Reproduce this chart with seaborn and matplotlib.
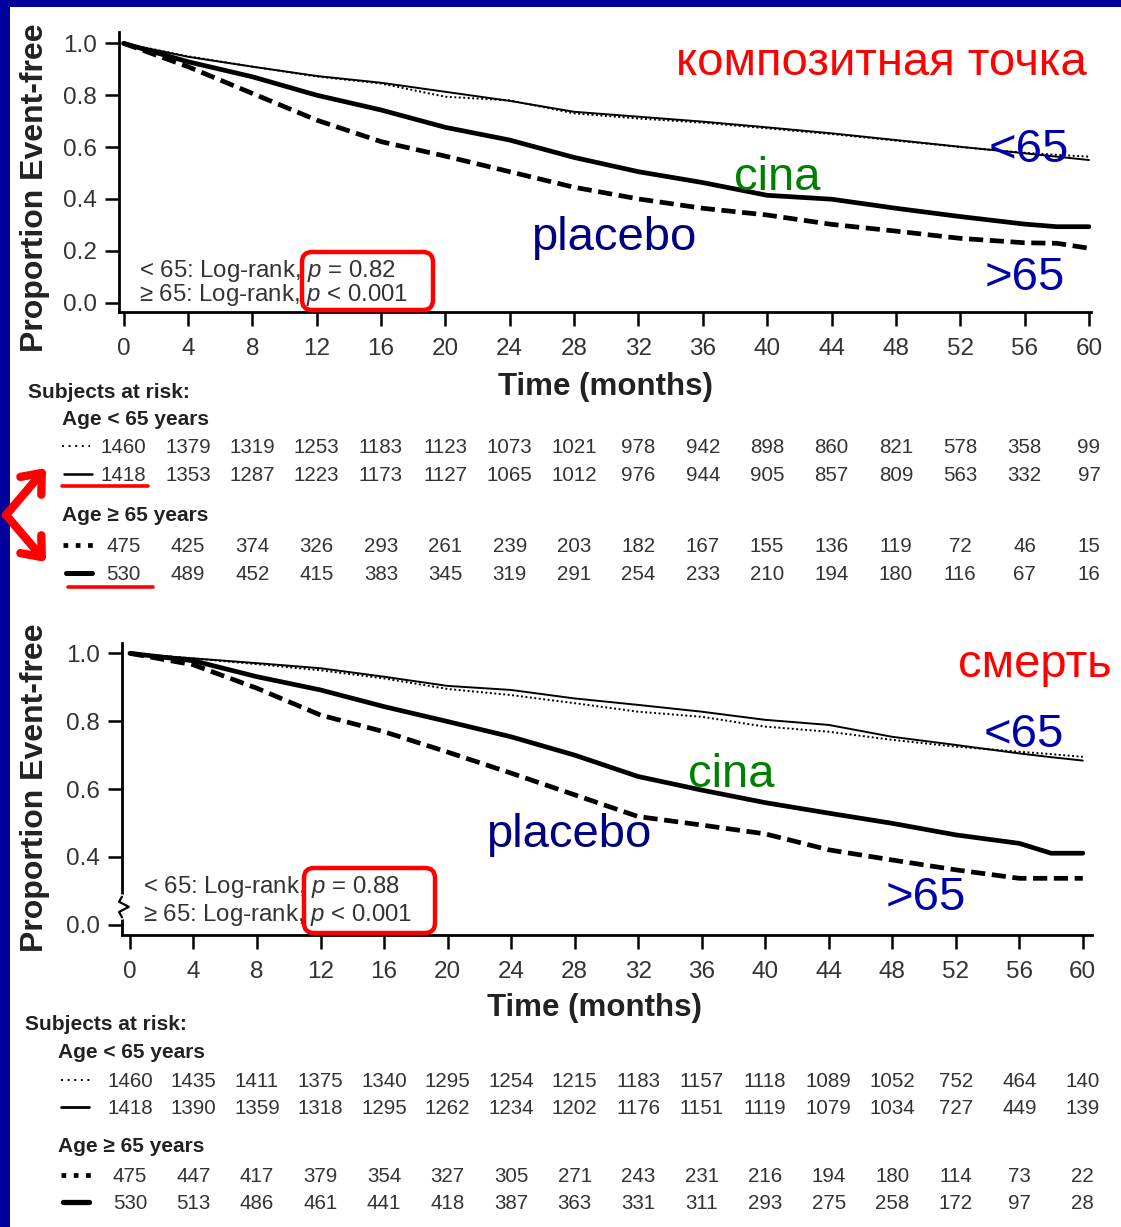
import matplotlib
matplotlib.use("Agg")
import matplotlib.pyplot as plt
import matplotlib.transforms as mtransforms
from matplotlib.patches import FancyBboxPatch, Rectangle, FancyArrowPatch
from matplotlib.lines import Line2D
import seaborn as sns
import pandas as pd

# ---------------- data ----------------
months = [0, 4, 8, 12, 16, 20, 24, 28, 32, 36, 40, 44, 48, 52, 56, 58, 60]

# composite endpoint (top panel)
top_lt65_placebo = [1.0, 0.950, 0.910, 0.872, 0.845, 0.794, 0.780, 0.730, 0.710, 0.694, 0.672, 0.650, 0.625, 0.600, 0.578, 0.570, 0.563]
top_lt65_cina    = [1.0, 0.948, 0.910, 0.874, 0.848, 0.813, 0.778, 0.736, 0.717, 0.698, 0.676, 0.653, 0.627, 0.601, 0.576, 0.563, 0.550]
top_ge65_placebo = [1.0, 0.910, 0.807, 0.704, 0.621, 0.565, 0.505, 0.445, 0.400, 0.364, 0.338, 0.302, 0.276, 0.248, 0.231, 0.229, 0.210]
top_ge65_cina    = [1.0, 0.929, 0.871, 0.800, 0.743, 0.676, 0.627, 0.560, 0.505, 0.463, 0.414, 0.399, 0.364, 0.332, 0.303, 0.293, 0.293]

# death (bottom panel)
bot_lt65_placebo = [1.0, 0.985, 0.968, 0.950, 0.926, 0.895, 0.877, 0.853, 0.828, 0.813, 0.784, 0.769, 0.745, 0.725, 0.710, 0.703, 0.695]
bot_lt65_cina    = [1.0, 0.985, 0.971, 0.956, 0.931, 0.904, 0.892, 0.867, 0.848, 0.828, 0.804, 0.789, 0.754, 0.730, 0.705, 0.694, 0.684]
bot_ge65_placebo = [1.0, 0.966, 0.897, 0.818, 0.769, 0.709, 0.647, 0.583, 0.519, 0.494, 0.468, 0.421, 0.391, 0.362, 0.337, 0.337, 0.337]
bot_ge65_cina    = [1.0, 0.978, 0.931, 0.892, 0.843, 0.799, 0.754, 0.700, 0.637, 0.597, 0.560, 0.529, 0.499, 0.465, 0.440, 0.411, 0.411]

risk_months = [0, 4, 8, 12, 16, 20, 24, 28, 32, 36, 40, 44, 48, 52, 56, 60]
top_risk_lt65_placebo = [1460, 1379, 1319, 1253, 1183, 1123, 1073, 1021, 978, 942, 898, 860, 821, 578, 358, 99]
top_risk_lt65_cina    = [1418, 1353, 1287, 1223, 1173, 1127, 1065, 1012, 976, 944, 905, 857, 809, 563, 332, 97]
top_risk_ge65_placebo = [475, 425, 374, 326, 293, 261, 239, 203, 182, 167, 155, 136, 119, 72, 46, 15]
top_risk_ge65_cina    = [530, 489, 452, 415, 383, 345, 319, 291, 254, 233, 210, 194, 180, 116, 67, 16]
bot_risk_lt65_placebo = [1460, 1435, 1411, 1375, 1340, 1295, 1254, 1215, 1183, 1157, 1118, 1089, 1052, 752, 464, 140]
bot_risk_lt65_cina    = [1418, 1390, 1359, 1318, 1295, 1262, 1234, 1202, 1176, 1151, 1119, 1079, 1034, 727, 449, 139]
bot_risk_ge65_placebo = [475, 447, 417, 379, 354, 327, 305, 271, 243, 231, 216, 194, 180, 114, 73, 22]
bot_risk_ge65_cina    = [530, 513, 486, 461, 441, 418, 387, 363, 331, 311, 293, 275, 258, 172, 97, 28]

x_ticks = list(range(0, 61, 4))
top_y_ticks = [0.0, 0.2, 0.4, 0.6, 0.8, 1.0]
top_y_labels = ["0.0", "0.2", "0.4", "0.6", "0.8", "1.0"]
bot_y_ticks = [0.2, 0.4, 0.6, 0.8, 1.0]          # broken axis: lowest tick shown as 0.0
bot_y_labels = ["0.0", "0.4", "0.6", "0.8", "1.0"]

# ---------------- style ----------------
sns.set_style("ticks")
plt.rcParams["font.family"] = ["Liberation Sans", "DejaVu Sans"]
plt.rcParams["mathtext.fontset"] = "custom"
plt.rcParams["mathtext.it"] = "Liberation Sans:italic"
plt.rcParams["mathtext.rm"] = "Liberation Sans"

W, H = 1121, 1227
fig = plt.figure(figsize=(W / 100, H / 100), dpi=100)
fig.patch.set_facecolor("#00009C")
PX = mtransforms.Affine2D().scale(1, -1).translate(0, H).scale(1 / 100) + fig.dpi_scale_trans
fig.add_artist(Rectangle((10, 7), W, H, transform=PX, facecolor="white", edgecolor="none", zorder=-10))

TXT = "#333333"
RED = "#FF0000"
BLUE = "#0000AA"
NAVY = "#000080"
GREEN = "#008000"


def T(x, y, s, **kw):
    return fig.text(x, y, s, transform=PX, **kw)


def setup_axes(ax, xlim, ylim, yticks, ylabels):
    ax.set_xlim(*xlim)
    ax.set_ylim(*ylim)
    ax.set_facecolor("none")
    for s in ["top", "right"]:
        ax.spines[s].set_visible(False)
    for s in ["left", "bottom"]:
        ax.spines[s].set_linewidth(2.0)
        ax.spines[s].set_color("black")
    ax.set_xticks(x_ticks)
    ax.set_xticklabels([str(t) for t in x_ticks])
    ax.set_yticks(yticks)
    ax.set_yticklabels(ylabels)
    ax.tick_params(axis="both", direction="out", length=10, width=1.8, color="black",
                   labelsize=17.5, labelcolor=TXT)
    ax.tick_params(axis="x", pad=9)
    ax.tick_params(axis="y", pad=6)
    ax.set_xlabel("")
    ax.set_ylabel("")


def curves(ax, lt_p, lt_c, ge_p, ge_c):
    sns.lineplot(x=months, y=lt_p, ax=ax, color="black", lw=1.4, linestyle=(0, (1, 1.3)), legend=False)
    sns.lineplot(x=months, y=lt_c, ax=ax, color="black", lw=1.4, linestyle="-", legend=False)
    sns.lineplot(x=months, y=ge_p, ax=ax, color="black", lw=3.4, linestyle=(0, (3.0, 1.4)), legend=False)
    sns.lineplot(x=months, y=ge_c, ax=ax, color="black", lw=3.4, linestyle="-", legend=False)


# ---------------- top panel ----------------
ax1 = fig.add_axes([119 / W, 1 - 311.7 / H, 971.6 / W, 280 / H])
curves(ax1, top_lt65_placebo, top_lt65_cina, top_ge65_placebo, top_ge65_cina)
setup_axes(ax1, (-0.28, 60.1), (-0.0347, 1.0447), top_y_ticks, top_y_labels)

# ---------------- bottom panel ----------------
ax2 = fig.add_axes([122 / W, 1 - 935 / H, 970 / W, (935 - 643.3) / H])
curves(ax2, bot_lt65_placebo, bot_lt65_cina, bot_ge65_placebo, bot_ge65_cina)
setup_axes(ax2, (-0.5, 60.58), (0.170, 1.0295), bot_y_ticks, bot_y_labels)

# axis break mark on the bottom panel y axis
brk = mtransforms.blended_transform_factory(ax2.transAxes, ax2.transData)
ax2.plot([0, 0], [0.222, 0.283], transform=brk, color="white", lw=4, clip_on=False, zorder=5)
ax2.plot([0, -0.003, 0.007, -0.003, 0], [0.283, 0.268, 0.253, 0.238, 0.222], transform=brk,
         color="black", lw=1.6, clip_on=False, zorder=6)

# axis titles
for (yc, xc_t, yc_t) in [(188, 605, 387), (788, 594, 1008)]:
    T(35, yc, "Proportion Event-free", rotation=90, ha="center", va="center",
      fontsize=23, fontweight="bold", color="#222222")
    T(xc_t, yc_t, "Time (months)", ha="center", va="center",
      fontsize=22.5, fontweight="bold", color="#222222")

# log-rank notes (two lines per panel in one text block)
LR = 17.3
T(139, 301, "< 65: Log-rank, $p$ = 0.82\n≥ 65: Log-rank, $p$ < 0.001",
  fontsize=LR, color=TXT, va="baseline", linespacing=0.92)
T(143, 921, "< 65: Log-rank, $p$ = 0.88\n≥ 65: Log-rank, $p$ < 0.001",
  fontsize=LR, color=TXT, va="baseline", linespacing=1.08)

for (x0, y0, x1, y1) in [(302, 252, 433, 310), (304, 868, 435, 933)]:
    fig.add_artist(FancyBboxPatch((x0, y0), x1 - x0, y1 - y0,
                                  boxstyle="round,pad=0,rounding_size=10", transform=PX,
                                  facecolor="none", edgecolor=RED, lw=3.2, zorder=10))

# coloured annotations
ANN = 34
T(881, 75, "композитная точка", color=RED, fontsize=ANN, ha="center", va="baseline")
T(1029, 162, "<65", color=BLUE, fontsize=ANN, ha="center", va="baseline")
T(777, 190, "cina", color=GREEN, fontsize=ANN, ha="center", va="baseline")
T(614, 250, "placebo", color=NAVY, fontsize=ANN, ha="center", va="baseline")
T(1025, 290, ">65", color=BLUE, fontsize=ANN, ha="center", va="baseline")

T(1035, 677, "смерть", color=RED, fontsize=ANN, ha="center", va="baseline")
T(1024, 747, "<65", color=BLUE, fontsize=ANN, ha="center", va="baseline")
T(731, 787, "cina", color=GREEN, fontsize=ANN, ha="center", va="baseline")
T(569, 847, "placebo", color=NAVY, fontsize=ANN, ha="center", va="baseline")
T(926, 910, ">65", color=BLUE, fontsize=ANN, ha="center", va="baseline")


# ---------------- risk tables ----------------
def risk_table(ax, y_title, y_age1, rows1, y_age2, rows2, x_title, x_age, symbols):
    T(x_title, y_title, "Subjects at risk:", fontsize=15, fontweight="bold", color="#222222", va="baseline")
    T(x_age, y_age1, "Age < 65 years", fontsize=15, fontweight="bold", color="#222222", va="baseline")
    T(x_age, y_age2, "Age ≥ 65 years", fontsize=15, fontweight="bold", color="#222222", va="baseline")
    bt = mtransforms.blended_transform_factory(ax.transData, PX)
    for (yb, vals) in rows1 + rows2:
        for m, v in zip(risk_months, vals):
            fig.text(m, yb, str(v), transform=bt, ha="center", va="baseline", fontsize=14.8, color=TXT)
    for (x0, x1, y, lw, ls) in symbols:
        fig.add_artist(Line2D([x0, x1], [y, y], transform=PX, color="black", lw=lw, linestyle=ls))


risk_table(ax1, 398, 425,
           [(453, top_risk_lt65_placebo), (481, top_risk_lt65_cina)], 521,
           [(552, top_risk_ge65_placebo), (580, top_risk_ge65_cina)], 28, 62,
           [(62, 90, 446, 1.4, (0, (1, 2.4))), (64, 92, 474, 1.8, "-"),
            (63, 93, 545, 3.4, (0, (1, 1.6))), (66, 92, 573, 3.6, "-")])

risk_table(ax2, 1030, 1058,
           [(1087, bot_risk_lt65_placebo), (1114, bot_risk_lt65_cina)], 1152,
           [(1182, bot_risk_ge65_placebo), (1209, bot_risk_ge65_cina)], 25, 58,
           [(61, 93, 1080, 1.4, (0, (1, 2.4))), (61, 89, 1107, 2.0, "-"),
            (61, 93, 1175, 3.4, (0, (1, 1.6))), (63, 89, 1202, 3.8, "-")])

# red underlines and bent double arrow
fig.add_artist(Line2D([62, 148], [486, 486], transform=PX, color=RED, lw=2.6))
fig.add_artist(Line2D([68, 153], [587, 587], transform=PX, color=RED, lw=2.6))
for (xe, ye) in [(46, 468), (46, 562)]:
    fig.add_artist(FancyArrowPatch((6, 515), (xe, ye), transform=PX, arrowstyle="->,head_length=0.55,head_width=0.45",
                                   mutation_scale=22, color=RED, lw=6, shrinkA=0, shrinkB=0))

fig.savefig("out.png", dpi=100, facecolor=fig.get_facecolor())
